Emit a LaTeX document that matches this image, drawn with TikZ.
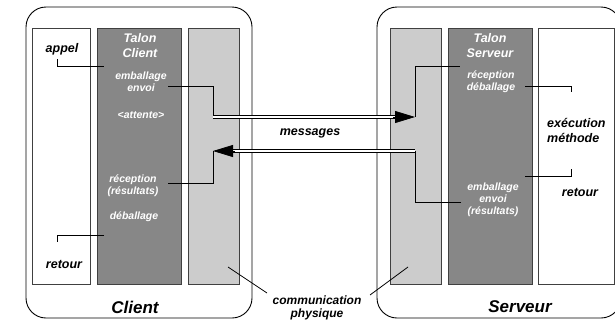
\documentclass[tikz,border=0pt]{standalone}
\usepackage{fontspec}
\setmainfont{Liberation Sans}
\usetikzlibrary{arrows.meta, positioning, calc}
\definecolor{talongris}{RGB}{135,135,135}
\definecolor{commgris}{RGB}{204,204,204}
\tikzset{boite/.style = {draw=black, line width=0.9pt, rounded corners=20pt}}
\tikzset{colonne/.style = {draw=black!75, line width=0.8pt, fill=#1}}
\tikzset{fil/.style = {draw=black, line width=0.8pt}}
\tikzset{msg/.style = {
	draw=black, line width=0.8pt,
	double=white, double distance=2.6pt,
	shorten >=18pt
	}}
\tikzset{pointe/.style = {fil, -{Triangle[length=20pt, width=12pt]}}}
\tikzset{txt/.style = {
	font=\fontsize{12.5}{15}\selectfont\bfseries\itshape,
	inner sep=0pt, align=center
	}}
\tikzset{talon/.style = {txt, text=white}}
\tikzset{petit/.style = {
	font=\fontsize{10.5}{12}\selectfont\bfseries\itshape,
	text=white, inner sep=0pt, align=center
	}}
\tikzset{titre/.style = {font=\fontsize{17}{20}\selectfont\bfseries\itshape, inner sep=0pt}}

\begin{document}
\begin{tikzpicture}[x=1pt, y=-1pt]
\useasboundingbox (0,0) rectangle (615,322);

\pgfmathsetmacro{\Haut}{28};
\pgfmathsetmacro{\Bas}{284};

	% Boites client et serveur
	\draw[boite] (26,7) rectangle (252,318);
	\draw[boite] (377,7) rectangle (621,318);

	% Colonnes : application, talon, communication
	\draw[colonne=white] (32,\Haut) rectangle (90,\Bas);
	\draw[colonne=talongris] (97,\Haut) rectangle (181,\Bas);
	\draw[colonne=commgris] (188,\Haut) rectangle (239,\Bas);
	\draw[colonne=commgris] (390,\Haut) rectangle (441,\Bas);
	\draw[colonne=talongris] (448,\Haut) rectangle (532,\Bas);
	\draw[colonne=white] (538,\Haut) rectangle (614,\Bas);

	% Points de passage
	\coordinate (cApp) at (57,59);
	\coordinate (cTal1) at (104,66);
	\coordinate (cEnv) at (168,86);
	\coordinate (cSort) at (213,117);
	\coordinate (sEntr) at (415,117);
	\coordinate (sRec) at (460,66);
	\coordinate (sDeb) at (525,86);
	\coordinate (sExe) at (571,92);
	\coordinate (sRet) at (571,169);
	\coordinate (sEmb) at (525,176);
	\coordinate (sRes) at (461,202);
	\coordinate (sSort) at (415,151);
	\coordinate (cEntr) at (213,151);
	\coordinate (cRec) at (168,183);
	\coordinate (cTal2) at (104,235);
	\coordinate (cRet) at (57,242);
	\coordinate (cPhy) at (228,267);
	\coordinate (sPhy) at (408,267);
	\coordinate (cPhyB) at (267,293);
	\coordinate (sPhyB) at (370,295);

	% Chemin de l'appel
	\draw[fil] (cApp) |- (cTal1);
	\draw[fil] (cEnv) -| (cSort);
	\draw[msg] (cSort) -- (sEntr);
	\draw[pointe] ($(sEntr)+(-22,0)$) -- (sEntr);
	\draw[fil] (sEntr) |- (sRec);
	\draw[fil] (sDeb) -| (sExe);

	% Chemin du retour
	\draw[fil] (sRet) |- (sEmb);
	\draw[fil] (sRes) -| (sSort);
	\draw[msg] (sSort) -- (cEntr);
	\draw[pointe] ($(cEntr)+(22,0)$) -- (cEntr);
	\draw[fil] (cEntr) |- (cRec);
	\draw[fil] (cTal2) -| (cRet);

	\draw[fil] (cPhyB) -- (cPhy);
	\draw[fil] (sPhyB) -- (sPhy);

	% Textes cote client
	\node[txt] (appel) at (62,49) {appel};
	\node[talon] (talonC) at (140,46) {Talon\\Client};
	\node[petit] (emballageC) at (141,82) {emballage\\envoi};
	\node[petit] (attente) at (141,115) {<attente>};
	\node[petit] (receptionC) at (133,186) {réception\\(résultats)};
	\node[petit] (deballageC) at (134,217) {déballage};
	\node[txt] (retourC) at (64,264) {retour};
	\node[titre] (client) at (135,307) {Client};

	% Textes du milieu
	\node[txt] (messages) at (310,133) {messages};
	\node[txt, font=\fontsize{12}{13}\selectfont\bfseries\itshape] (comm) at (317,308) {communication\\physique};

	% Textes cote serveur
	\node[talon] (talonS) at (490,46) {Talon\\Serveur};
	\node[petit] (receptionS) at (491,82) {réception\\déballage};
	\node[txt, align=left, anchor=west] (execution) at (547,130) {exécution\\méthode};
	\node[txt] (retourS) at (580,192) {retour};
	\node[petit] (emballageS) at (493,200) {emballage\\envoi\\(résultats)};
	\node[titre] (serveur) at (520,307) {Serveur};

\end{tikzpicture}
\end{document}
